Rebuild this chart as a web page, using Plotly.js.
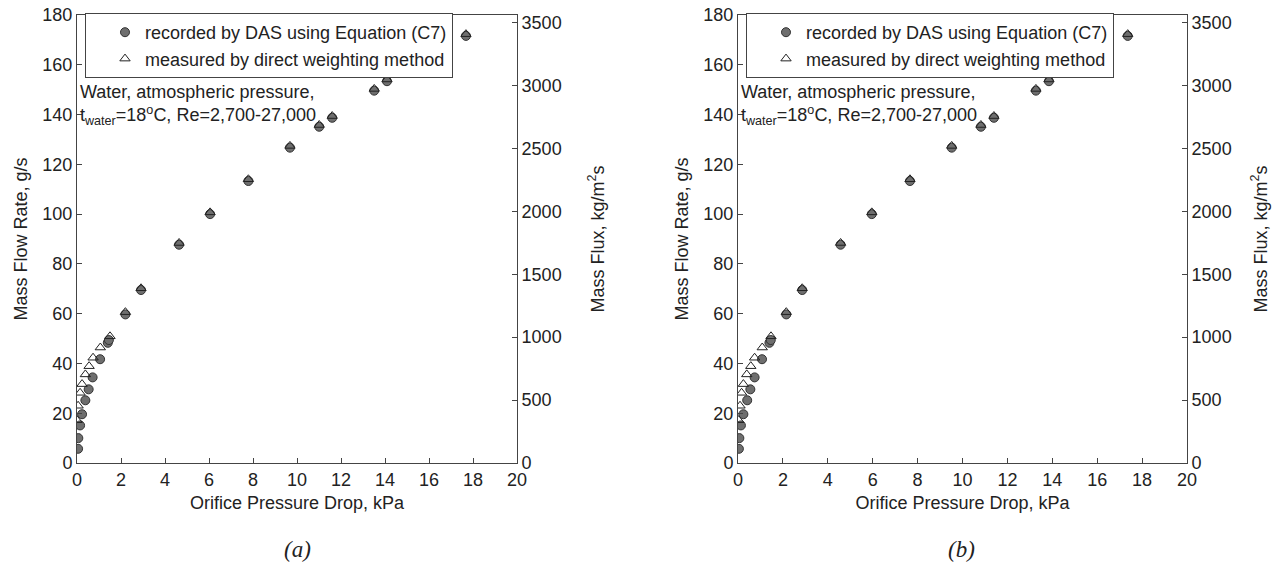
<!DOCTYPE html>
<html>
<head>
<meta charset="utf-8">
<script src="https://cdn.plot.ly/plotly-3.0.1.min.js"></script>
<style>html,body{margin:0;padding:0;background:#fff;}#chart{width:1283px;height:564px;}</style>
</head>
<body>
<div id="chart"></div>
<script>
// Panel (a)
const dpA_das = [0.05,0.06,0.14,0.23,0.38,0.53,0.71,1.05,1.40,1.45,2.20,2.91,4.64,6.05,7.79,9.68,11.01,11.60,13.51,14.09,17.68];
const mA_das  = [5.7,10.0,15.1,19.6,25.2,29.6,34.4,41.7,48.3,49.4,59.7,69.5,87.7,100.0,113.3,126.7,135.1,138.7,149.6,153.4,171.6];
const dpA_wt  = [0.00,0.05,0.14,0.23,0.38,0.55,0.73,1.06,1.50,2.20,2.91,4.64,6.05,7.79,9.68,11.01,11.60,13.51,14.09,17.68];
const mA_wt   = [17.2,23.0,28.2,31.7,35.6,38.9,42.3,46.4,50.9,60.6,70.2,88.4,100.7,114.0,127.4,135.8,139.4,150.3,154.1,172.3];
// Panel (b)
const dpB_das = [0.04,0.06,0.13,0.24,0.41,0.55,0.74,1.07,1.40,1.46,2.15,2.86,4.57,5.96,7.66,9.52,10.82,11.40,13.27,13.85,17.36];
const mB_das  = [5.7,10.0,15.1,19.6,25.2,29.6,34.4,41.7,48.3,49.4,59.7,69.5,87.7,100.0,113.3,126.7,135.1,138.7,149.6,153.4,171.6];
const dpB_wt  = [0.03,0.09,0.16,0.24,0.39,0.57,0.74,1.08,1.47,2.15,2.86,4.57,5.96,7.66,9.52,10.82,11.40,13.27,13.85,17.36];
const mB_wt   = [17.2,23.0,28.2,31.7,35.6,38.9,42.3,46.4,50.9,60.6,70.2,88.4,100.7,114.0,127.4,135.8,139.4,150.3,154.1,172.3];

const seriesNames = ["recorded by DAS using Equation (C7)", "measured by direct weighting method"];
const panelLabels = ["(a)", "(b)"];
const noteText = "Water, atmospheric pressure,<br>t<sub>water</sub>=18<sup>o</sup>C, Re=2,700-27,000";
const xTitle = "Orifice Pressure Drop, kPa";
const yTitle = "Mass Flow Rate, g/s";
const y2Title = "Mass Flux, kg/m<sup>2</sup>s";

const FONT = "Liberation Sans, Arial, sans-serif";
const TXT = "#222";
const LINE = "#444";
const FS = 18;

function das(x, y, xa, ya, lg) {
  return {x: x, y: y, xaxis: xa, yaxis: ya, type: 'scatter', mode: 'markers', name: seriesNames[0], legend: lg,
    marker: {symbol: 'circle', size: 9, color: '#6e6e6e', line: {color: '#333', width: 1}}, hoverinfo: 'x+y'};
}
function wt(x, y, xa, ya, lg) {
  return {x: x, y: y, xaxis: xa, yaxis: ya, type: 'scatter', mode: 'markers', name: seriesNames[1], legend: lg,
    marker: {symbol: 'triangle-up-open', size: 9, color: '#222', line: {color: '#222', width: 1}}, hoverinfo: 'x+y'};
}
const data = [
  das(dpA_das, mA_das, 'x', 'y', 'legend'),
  wt(dpA_wt, mA_wt, 'x', 'y', 'legend'),
  das(dpB_das, mB_das, 'x2', 'y2', 'legend2'),
  wt(dpB_wt, mB_wt, 'x2', 'y2', 'legend2'),
  {x: [null], y: [null], xaxis: 'x', yaxis: 'y3', type: 'scatter', mode: 'markers', showlegend: false, hoverinfo: 'skip'},
  {x: [null], y: [null], xaxis: 'x2', yaxis: 'y4', type: 'scatter', mode: 'markers', showlegend: false, hoverinfo: 'skip'}
];

const W = 1283, H = 564;
const yDom = [(H - 463) / H, (H - 15) / H];
const dA = [77 / W, 517 / W];
const dB = [738 / W, 1187 / W];

function xax(dom, anchor) {
  return {domain: dom, anchor: anchor, range: [0, 20], dtick: 2, tick0: 0, autorange: false,
    showline: true, linecolor: LINE, linewidth: 1, mirror: true, ticks: 'inside', ticklen: 5, tickcolor: LINE,
    showgrid: false, zeroline: false, tickfont: {family: FONT, size: FS, color: TXT},
    title: {text: xTitle, font: {family: FONT, size: FS, color: TXT}, standoff: 7}};
}
function yax(anchor) {
  return {domain: yDom, anchor: anchor, range: [0, 180], dtick: 20, tick0: 0, autorange: false,
    showline: true, linecolor: LINE, linewidth: 1, ticks: 'inside', ticklen: 5, tickcolor: LINE,
    showgrid: false, zeroline: false, tickfont: {family: FONT, size: FS, color: TXT},
    title: {text: yTitle, font: {family: FONT, size: FS, color: TXT}, standoff: 10}};
}
function y2ax(anchor, over, so) {
  return {overlaying: over, side: 'right', anchor: anchor, range: [0, 3560], dtick: 500, tick0: 0, autorange: false,
    showline: true, linecolor: LINE, linewidth: 1, ticks: 'inside', ticklen: 5, tickcolor: LINE,
    showgrid: false, zeroline: false, tickfont: {family: FONT, size: FS, color: TXT},
    title: {text: y2Title, font: {family: FONT, size: FS, color: TXT}, standoff: so}};
}

function legendAt(x) {
  return {x: x, y: (H - 13) / H, xanchor: 'left', yanchor: 'top', bgcolor: '#fff', bordercolor: LINE, borderwidth: 1,
    font: {family: FONT, size: 18, color: TXT}, tracegroupgap: 0, indentation: 19, itemwidth: 30};
}

const layout = {
  width: W, height: H,
  margin: {l: 0, r: 0, t: 0, b: 0},
  paper_bgcolor: '#fff', plot_bgcolor: 'rgba(0,0,0,0)',
  font: {family: FONT, size: FS, color: TXT},
  showlegend: true,
  xaxis: xax(dA, 'y'),
  yaxis: yax('x'),
  yaxis3: y2ax('x', 'y', 30),
  xaxis2: xax(dB, 'y2'),
  yaxis2: yax('x2'),
  yaxis4: y2ax('x2', 'y2', 23),
  legend: legendAt(85 / W),
  legend2: legendAt(746 / W),
  annotations: [
    {xref: 'paper', yref: 'paper', x: 78 / W, y: (H - 80) / H, xanchor: 'left', yanchor: 'top', align: 'left',
     text: noteText, showarrow: false, font: {family: FONT, size: FS, color: TXT}},
    {xref: 'paper', yref: 'paper', x: 739 / W, y: (H - 80) / H, xanchor: 'left', yanchor: 'top', align: 'left',
     text: noteText, showarrow: false, font: {family: FONT, size: FS, color: TXT}},
    {xref: 'paper', yref: 'paper', x: 297 / W, y: (H - 549) / H, xanchor: 'center', yanchor: 'middle',
     text: '<i>' + panelLabels[0] + '</i>', showarrow: false, font: {family: 'Liberation Serif, Times New Roman, serif', size: 23, color: TXT}},
    {xref: 'paper', yref: 'paper', x: 962 / W, y: (H - 549) / H, xanchor: 'center', yanchor: 'middle',
     text: '<i>' + panelLabels[1] + '</i>', showarrow: false, font: {family: 'Liberation Serif, Times New Roman, serif', size: 23, color: TXT}}
  ]
};

Plotly.newPlot('chart', data, layout, {displayModeBar: false, staticPlot: true});
</script>
</body>
</html>
